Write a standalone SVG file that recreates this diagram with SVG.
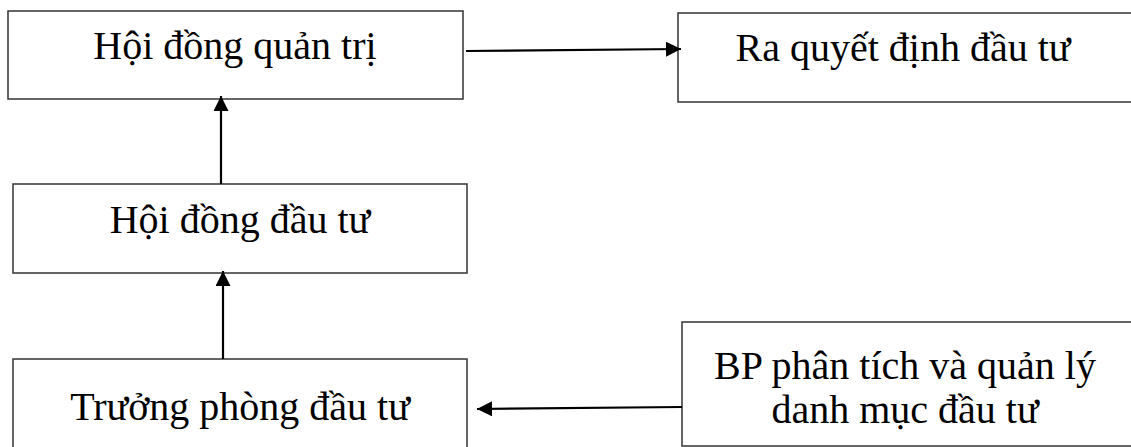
<svg xmlns="http://www.w3.org/2000/svg" width="1131" height="447" viewBox="0 0 1131 447">
  <style>
    .box { fill: #ffffff; stroke: #333333; stroke-width: 1.5; }
    .lbl { font-family: "Liberation Serif", "Times New Roman", serif; font-size: 40px; fill: #000000; text-anchor: middle; }
    .conn { stroke: #000000; stroke-width: 2.2; fill: none; marker-end: url(#arrow); }
  </style>
  <defs>
    <marker id="arrow" markerUnits="userSpaceOnUse" markerWidth="16" markerHeight="16" refX="15" refY="7.5" orient="auto">
      <path d="M0,0 L15,7.5 L0,15 z" fill="#000000"/>
    </marker>
  </defs>
  <rect width="1131" height="447" fill="#ffffff"/>

  <g id="node-hdqt">
    <rect class="box" x="8" y="11" width="455" height="88"/>
    <text class="lbl" x="235" y="59">Hội đồng quản trị</text>
  </g>
  <g id="node-rqd">
    <rect class="box" x="678" y="13" width="470" height="89"/>
    <text class="lbl" x="903" y="61">Ra quyết định đầu tư</text>
  </g>
  <g id="node-hddt">
    <rect class="box" x="13" y="184" width="454" height="89"/>
    <text class="lbl" x="240" y="233">Hội đồng đầu tư</text>
  </g>
  <g id="node-tpdt">
    <rect class="box" x="13" y="359" width="454" height="100"/>
    <text class="lbl" x="240" y="420">Trưởng phòng đầu tư</text>
  </g>
  <g id="node-bp">
    <rect class="box" x="682" y="322" width="466" height="124"/>
    <text class="lbl" x="905" y="379">BP phân tích và quản lý</text>
    <text class="lbl" x="905" y="423">danh mục đầu tư</text>
  </g>

  <g id="connectors">
    <path class="conn" d="M466,51 L681,49"/>
    <path class="conn" d="M221,184 L221,96"/>
    <path class="conn" d="M223,359 L223,271"/>
    <path class="conn" d="M682,407 L477,409"/>
  </g>
</svg>
